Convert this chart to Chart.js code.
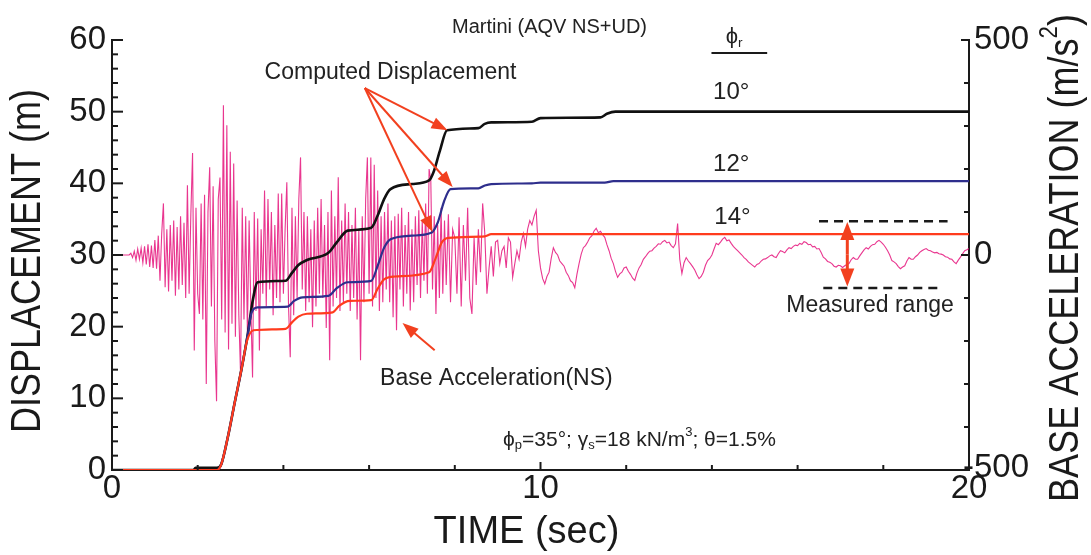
<!DOCTYPE html>
<html>
<head>
<meta charset="utf-8">
<script src="https://cdn.jsdelivr.net/npm/chart.js@4"></script>
<style>
  html, body { margin: 0; padding: 0; background: #fff; }
  #wrap { width: 1091px; height: 555px; position: relative; }
</style>
</head>
<body>
<div id="wrap"><canvas id="chart"></canvas></div>
<script>
// computed displacement (m) vs time (s), [time, displacement]
const disp10 = [[0,0],[1.9,0],[1.95,0.3],[2.45,0.3],[2.55,0.8],[2.7,4.5],[2.87,9.6],[3.03,14.3],[3.17,19],[3.28,23.5],[3.4,26.2],
  [4.05,26.4],[4.2,27.5],[4.35,28.6],[4.55,29.3],[5.05,30.3],[5.25,31.8],[5.5,33.4],[6.05,33.8],[6.2,35.5],[6.35,37.8],
  [6.5,39.2],[7.0,39.9],[7.4,40.4],[7.5,41.5],[7.65,44.5],[7.82,47.4],[8.55,47.7],[8.7,48.3],[8.85,48.5],[9.8,48.6],
  [10.0,49.1],[11.4,49.2],[11.55,49.7],[11.75,50],[20,50]];
const disp12 = [[0,0],[2.45,0],[2.55,0.8],[2.7,4.5],[2.87,9.6],[3.03,14.3],[3.17,19],[3.26,22],[3.4,22.7],
  [4.1,22.8],[4.25,23.6],[4.45,24.1],[5.05,24.3],[5.25,25.4],[5.5,26.2],[6.05,26.4],[6.2,28.5],[6.35,31],[6.5,32.2],
  [7.0,32.7],[7.45,33.1],[7.6,34.5],[7.75,37.5],[7.9,39.2],[8.55,39.3],[8.7,39.7],[8.85,39.9],[9.8,40],[10,40.1],
  [11.5,40.1],[11.7,40.3],[20,40.3]];
const disp14 = [[0,0],[2.45,0],[2.55,0.8],[2.7,4.5],[2.87,9.6],[3.03,14.3],[3.15,18],[3.3,19.5],
  [4.05,19.7],[4.2,20.6],[4.35,21.4],[4.55,21.8],[5.15,22],[5.3,22.9],[5.55,23.6],[6.05,23.7],[6.2,25.3],[6.35,26.6],
  [6.6,27],[7.4,27.6],[7.55,29.5],[7.7,31.8],[7.85,32.4],[8.7,32.6],[8.85,32.9],[20,32.9]];

// base acceleration NS (m/s2), sampled every 0.04 s from t = 0
const accEarly = [
  0, 0, 0, 0, 0, 0, 0, 0, 0, 0,
  0, 4, -6, 9, -12, 14, -10, 16, -18, 20,
  -22, 25, -28, 22, -30, 35, -32, 45, -60, 50,
  120, -75, 60, -85, 70, -60, 80, -95, 65, -80,
  90, -70, 75, -100, 162, -90, 95, 237, -222, 110,
  -90, -137, 120, -150, 140, -300, 100, 204, -120, 160,
  -200, -340, 130, 180, -150, 348, -180, 302, -220, 240,
  -160, 213, -190, 127, -140, -277, 110, -150, 90, -180,
  80, -120, -285, 100, -130, 85, -222, 60, -90, 150,
  -120, 130, -80, 100, -140, 70, -100, 143, -110, 143,
  -90, 60, 169, -120, -238, 110, -140, 90, -100, 130,
  227, -80, 100, -130, 90, -110, 60, -168, 80, -120,
  110, -90, 130, -100, 70, -170, 100, -245, 150, -120,
  90, -100, 181, -130, 80, -110, 120, -90, 100, -130,
  70, -100, 110, -150, 60, -245, 90, -110, 130, 227,
  -90, 227, -120, 210, -100, 150, -130, 90, -110, 100,
  -80, 120, -110, 80, -145, 90, -175, 96, -80, 110,
  -120, 70, -90, 100, -129, 60, -110, 90, -70, 104,
  -100, 80, -60, 120, -90, 200, 174, -80, 90, -137,
  70, -100, 110, -90, 80
];
// every 0.05 s from t = 7.8
const accMid = [
  -70, 95, -110, 60,
  40, -90, 88, -120, 70, -60, 110, -100, -137, 40,
  -70, 60, -40, 120, 50, -90, -30, 20, -50, 30,
  34, -20, 10, 20, -30, 40, 30, -52, -20, 10,
  -10, 30, 50, 20, 60, 80, 70, 90, 104, 10
];
// every 0.05 s from t = 10
const accLate = [
  -30, -55, -67, -50, -40, -8, 17, 6, 0, -14,
  -20, -26, -40, -48, -60, -64, -76, -45, -20, 2,
  17, 22, 30, 40, 45, 56, 62, 52, 55, 47,
  41, 24, 10, -8, -20, -38, -52, -44, -40, -30,
  -28, -38, -45, -54, -59, -42, -30, -22, -10, -4,
  3, 9, 10, 16, 20, 26, 25, 31, 34, 28,
  30, 22, 17, 26, 73, -10, -43, -18, -6, -14,
  -20, -27, -35, -46, -55, -50, -40, -24, -13, -8,
  0, 14, 27, 24, 30, 37, 41, 33, 35, 27,
  20, 15, 10, 5, 0, -6, -10, -16, -20, -24,
  -28, -22, -20, -14, -10, -9, -6, -2, 0, -4,
  -6, 3, 10, 8, 5, 12, 17, 15, 20, 23,
  22, 27, 25, 31, 29, 24, 25, 19, 20, 14,
  15, 6, -5, -9, -15, -17, -20, -26, -28, -24,
  -25, -29, -25, -22, -20, -11, -6, -10, -10, -2,
  5, 12, 17, 14, 20, 24, 25, 31, 34, 30,
  25, 18, 10, 0, -13, -16, -20, -27, -32, -28,
  -25, -14, -6, -10, -10, -4, 0, 6, 10, 13,
  15, 11, 10, 7, 5, 6, 3, 2, 0, -4,
  -5, -9, -10, -16, -20, -12, -5, 3, 10, 12,
  15
];

const xTickLabels = [0, 10, 20];
const yTickLabels = [0, 10, 20, 30, 40, 50, 60];
const accTickLabels = [-500, 0, 500];

const FONT = "'Liberation Sans', Arial, Helvetica, sans-serif";
const RED = '#f2401f';
const INK = '#1a1a1a';

function pairs(arr) { return arr.map(([t, d]) => ({ x: t, y: d })); }
function sampled(start, step, vals) { return vals.map((v, i) => ({ x: +(start + i * step).toFixed(3), y: v })); }

const accPoints = [...sampled(0, 0.04, accEarly), ...sampled(7.8, 0.05, accMid), ...sampled(10, 0.05, accLate)];

function richText(ctx, parts, x, y, size, align) {
  const f = s => `${s}px ${FONT}`;
  const widths = parts.map(([s, m]) => { ctx.font = f(m ? size * 0.62 : size); return ctx.measureText(s).width; });
  const total = widths.reduce((a, b) => a + b, 0);
  let cx = align === 'center' ? x - total / 2 : align === 'right' ? x - total : x;
  ctx.textAlign = 'left';
  ctx.textBaseline = 'middle';
  parts.forEach(([s, m], i) => {
    ctx.font = f(m ? size * 0.62 : size);
    const dy = m === 'sub' ? size * 0.28 : m === 'sup' ? -size * 0.38 : 0;
    ctx.fillText(s, cx, y + dy);
    cx += widths[i];
  });
}

function arrow(ctx, x1, y1, x2, y2, len, half) {
  const a = Math.atan2(y2 - y1, x2 - x1);
  ctx.beginPath(); ctx.moveTo(x1, y1); ctx.lineTo(x2 - Math.cos(a) * len * 0.6, y2 - Math.sin(a) * len * 0.6); ctx.stroke();
  ctx.beginPath();
  ctx.moveTo(x2, y2);
  ctx.lineTo(x2 - Math.cos(a) * len + Math.sin(a) * half, y2 - Math.sin(a) * len - Math.cos(a) * half);
  ctx.lineTo(x2 - Math.cos(a) * len - Math.sin(a) * half, y2 - Math.sin(a) * len + Math.cos(a) * half);
  ctx.closePath(); ctx.fill();
}

const overlay = {
  id: 'overlay',
  afterDraw(chart) {
    const { ctx, chartArea: ca, scales: { x, y, yAcc } } = chart;
    const P = (t, d) => [x.getPixelForValue(t), y.getPixelForValue(d)];
    ctx.save();

    // inward tick marks
    ctx.strokeStyle = INK; ctx.lineWidth = 2;
    x.ticks.forEach(t => {
      const px = x.getPixelForValue(t.value), len = t.value % 10 === 0 ? 8 : 5;
      ctx.beginPath(); ctx.moveTo(px, ca.bottom); ctx.lineTo(px, ca.bottom - len); ctx.stroke();
    });
    y.ticks.forEach(t => {
      const py = y.getPixelForValue(t.value), len = t.value % 10 === 0 ? 11 : 6;
      ctx.beginPath(); ctx.moveTo(ca.left, py); ctx.lineTo(ca.left + len, py); ctx.stroke();
    });
    yAcc.ticks.forEach(t => {
      const py = yAcc.getPixelForValue(t.value), len = t.value % 500 === 0 ? 8 : 5;
      ctx.beginPath(); ctx.moveTo(ca.right, py); ctx.lineTo(ca.right - len, py); ctx.stroke();
    });

    // tick labels
    ctx.fillStyle = INK;
    ctx.font = `33px ${FONT}`;
    ctx.textAlign = 'right'; ctx.textBaseline = 'middle';
    yTickLabels.forEach(v => ctx.fillText(String(v), ca.left - 6, y.getPixelForValue(v)));
    ctx.textAlign = 'center'; ctx.textBaseline = 'top';
    xTickLabels.forEach(v => ctx.fillText(String(v), x.getPixelForValue(v), ca.bottom + 2));
    ctx.textAlign = 'left'; ctx.textBaseline = 'middle';
    accTickLabels.forEach(v => ctx.fillText(String(v), ca.right + (v < 0 ? -6 : 5), yAcc.getPixelForValue(v) - (v < 0 ? 2 : 0)));

    // axis titles
    ctx.font = `38px ${FONT}`;
    ctx.textAlign = 'center'; ctx.textBaseline = 'middle';
    ctx.fillText('TIME (sec)', (ca.left + ca.right) / 2 - 14, 533);
    ctx.save();
    ctx.translate(28, 261); ctx.rotate(-Math.PI / 2); ctx.scale(0.9, 1.05);
    ctx.font = `40px ${FONT}`;
    ctx.fillText('DISPLACEMENT (m)', 0, 0);
    ctx.restore();
    ctx.save();
    ctx.translate(1066, 258); ctx.rotate(-Math.PI / 2); ctx.scale(0.9, 1.05);
    richText(ctx, [['BASE ACCELERATION (m/s'], ['2', 'sup'], [')']], 0, 0, 40, 'center');
    ctx.restore();

    // text annotations
    ctx.fillStyle = '#222';
    ctx.font = `20px ${FONT}`; ctx.textAlign = 'center';
    ctx.fillText('Martini (AQV NS+UD)', ...P(10.21, 61.7));
    ctx.font = `23px ${FONT}`;
    ctx.fillText('Computed Displacement', ...P(6.5, 55.4));
    ctx.fillText('Base Acceleration(NS)', ...P(8.97, 12.8));
    ctx.fillText('Measured range', ...P(17.69, 22.9));
    ctx.font = `24px ${FONT}`;
    ctx.fillText('10°', ...P(14.45, 52.7));
    ctx.fillText('12°', ...P(14.45, 42.6));
    ctx.fillText('14°', ...P(14.48, 35.3));
    richText(ctx, [['ϕ'], ['r', 'sub']], ...P(14.52, 60.4), 22, 'center');
    richText(ctx, [['ϕ'], ['p', 'sub'], ['=35°; γ'], ['s', 'sub'], ['=18 kN/m'], ['3', 'sup'], ['; θ=1.5%']], ...P(12.31, 4.2), 21, 'center');

    // phi_r underline
    ctx.strokeStyle = INK; ctx.lineWidth = 2;
    const [u1x, u1y] = P(13.99, 58.2), [u2x] = P(15.29, 58.2);
    ctx.beginPath(); ctx.moveTo(u1x, u1y); ctx.lineTo(u2x, u1y); ctx.stroke();

    // red arrows
    ctx.strokeStyle = RED; ctx.fillStyle = RED; ctx.lineWidth = 2;
    const o = P(5.9, 53.3);
    arrow(ctx, ...o, ...P(7.83, 47.4), 16, 6);
    arrow(ctx, ...o, ...P(7.95, 39.5), 16, 6);
    arrow(ctx, ...o, ...P(7.48, 33.2), 16, 6);
    arrow(ctx, ...P(7.53, 16.7), ...P(6.78, 20.5), 16, 6);
    ctx.lineWidth = 3;
    const mid = P(17.16, 30.1);
    arrow(ctx, ...mid, ...P(17.16, 34.6), 18, 7);
    arrow(ctx, ...mid, ...P(17.16, 25.6), 18, 7);

    ctx.restore();
  }
};

const stepLine = (data, color, width, order) => ({
  data: pairs(data), yAxisID: 'y', borderColor: color, borderWidth: width,
  pointRadius: 0, cubicInterpolationMode: 'monotone', order
});
const dashLine = (t1, t2, d) => ({
  data: [{ x: t1, y: d }, { x: t2, y: d }], yAxisID: 'y', borderColor: INK, borderWidth: 2.5,
  borderDash: [9, 6], pointRadius: 0, order: 0
});

new Chart(document.getElementById('chart'), {
  type: 'line',
  data: {
    datasets: [
      stepLine(disp14, '#ff3b1d', 2.2, 1),
      stepLine(disp12, '#2e2e8c', 2.2, 2),
      stepLine(disp10, '#111111', 2.6, 3),
      { data: accPoints, yAxisID: 'yAcc', borderColor: 'rgba(228,10,118,0.82)', borderWidth: 1.1,
        pointRadius: 0, tension: 0, order: 5 },
      dashLine(16.5, 19.5, 34.7),
      dashLine(16.6, 19.3, 25.4)
    ]
  },
  options: {
    responsive: true,
    maintainAspectRatio: false,
    animation: false,
    layout: { padding: { top: 40, left: 0, right: 0, bottom: 0 } },
    plugins: { legend: { display: false }, tooltip: { enabled: false } },
    scales: {
      x: {
        type: 'linear', min: 0, max: 20, position: 'bottom',
        ticks: { display: false, stepSize: 2 },
        grid: { display: false },
        border: { display: true, color: INK, width: 2 },
        afterFit: s => { s.height = 85; }
      },
      y: {
        type: 'linear', min: 0, max: 60, position: 'left',
        ticks: { display: false, stepSize: 2 },
        grid: { display: false },
        border: { display: true, color: INK, width: 2 },
        afterFit: s => { s.width = 112; }
      },
      yAcc: {
        type: 'linear', min: -500, max: 500, position: 'right',
        ticks: { display: false, stepSize: 100 },
        grid: { display: false },
        border: { display: true, color: INK, width: 2 },
        afterFit: s => { s.width = 122; }
      }
    }
  },
  plugins: [overlay]
});
</script>
</body>
</html>
